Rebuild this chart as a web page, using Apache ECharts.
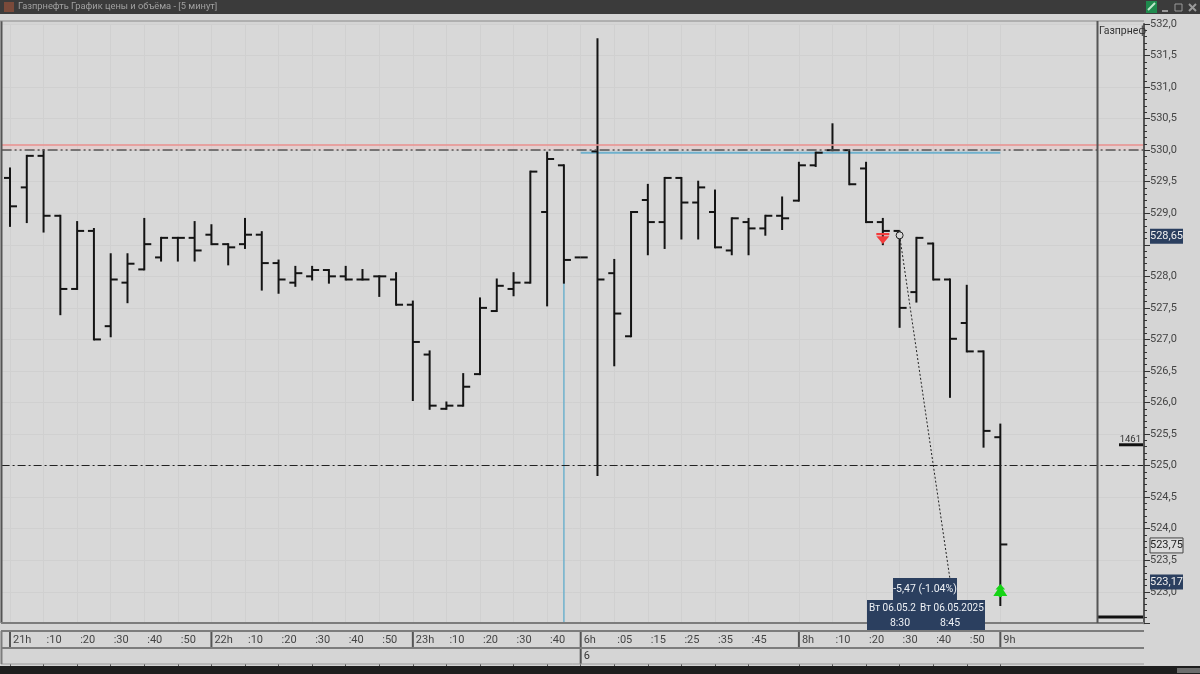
<!DOCTYPE html>
<html>
<head>
<meta charset="utf-8">
<title>Газпрнефть</title>
<style>
  html, body { margin: 0; padding: 0; background: #d5d5d5; }
  #chart { width: 1200px; height: 674px; }
</style>
<script src="https://cdn.jsdelivr.net/npm/echarts@6/dist/echarts.min.js"></script>
</head>
<body>
<div id="chart"></div>
<script>
const categories = [
  '21h', '', ':10', '', ':20', '', ':30', '', ':40', '', ':50', '',
  '22h', '', ':10', '', ':20', '', ':30', '', ':40', '', ':50', '',
  '23h', '', ':10', '', ':20', '', ':30', '', ':40', '',
  '6h', '', ':05', '', ':15', '', ':25', '', ':35', '', ':45', '', '',
  '8h', '', ':10', '', ':20', '', ':30', '', ':40', '', ':50', '',
  '9h', '', '', '', '', '', '', '', ''
]
const opens = [
  529.56, 529.41, 529.91, 528.96, 527.80, 528.72, 527.21, 527.90, 528.11, 528.30,
  528.61, 528.61, 528.66, 528.51, 528.51, 528.66, 528.21, 527.90, 528.00, 528.10,
  528.00, 527.95, 528.00, 527.95, 527.55, 526.76, 525.90, 525.95, 526.45, 527.45,
  527.80, 527.90, 529.02, 529.76, 528.30, 529.98, 528.05, 527.05, 529.21, 528.86,
  529.56, 529.17, 529.02, 528.41, 528.86, 528.76, 528.96, 529.20, 529.76, 530.00,
  530.00, 529.71, 528.86, 528.72, 527.75, 528.52, 527.95, 527.26, 526.81, 525.45
]
const highs = [
  529.71, 529.91, 530.00, 528.96, 528.86, 528.75, 528.35, 528.35, 528.91, 528.61,
  528.61, 528.86, 528.81, 528.51, 528.91, 528.70, 528.25, 528.15, 528.15, 528.10,
  528.15, 528.10, 528.00, 528.05, 527.60, 526.81, 526.00, 526.45, 527.65, 527.95,
  528.05, 529.66, 529.96, 529.76, 528.30, 531.76, 528.26, 529.02, 529.45, 529.56,
  529.56, 529.50, 529.36, 528.92, 528.91, 528.96, 529.25, 529.80, 529.96, 530.41,
  530.00, 529.80, 528.91, 528.71, 528.61, 528.52, 527.95, 527.85, 526.81, 525.65
]
const lows = [
  528.80, 528.86, 528.71, 527.40, 527.80, 527.00, 527.05, 527.59, 528.11, 528.25,
  528.25, 528.25, 528.51, 528.19, 528.45, 527.79, 527.74, 527.85, 527.95, 527.90,
  527.95, 527.95, 527.69, 527.55, 526.04, 525.90, 525.90, 525.95, 526.45, 527.45,
  527.70, 527.90, 527.54, 527.90, 528.30, 524.85, 526.59, 527.05, 528.35, 528.45,
  528.60, 528.60, 528.46, 528.35, 528.35, 528.66, 528.75, 529.20, 529.75, 530.00,
  529.46, 528.86, 528.51, 527.20, 527.60, 527.95, 526.09, 526.81, 525.30, 522.79
]
const closes = [
  529.11, 529.91, 528.96, 527.80, 528.72, 527.00, 527.95, 528.20, 528.51, 528.61,
  528.61, 528.41, 528.51, 528.46, 528.66, 528.21, 527.95, 528.05, 528.10, 528.00,
  527.95, 527.95, 528.00, 527.55, 526.96, 525.95, 525.95, 526.25, 527.50, 527.85,
  527.90, 529.66, 529.86, 528.26, 528.30, 527.95, 527.41, 529.02, 528.86, 529.56,
  529.17, 529.41, 528.46, 528.92, 528.76, 528.96, 528.92, 529.76, 529.96, 530.00,
  529.46, 528.86, 528.72, 527.50, 528.61, 527.95, 527.01, 526.81, 525.55, 523.75
]
const hourMarks = [0, 12, 24, 47, 59]
const dayMarks = [[34, '6']]
const redLevel = 530.09
const dashLevels = [530, 525]
const blueHorizontal = [[34, 529.96], [59, 529.96]]
const blueVertical = [[33, 527.9], [33, 522.5]]
const trendLine = [[53, 528.65], [56, 523.2]]
const sellSignals = [[52, 528.6]]
const buySignals = [[59, 523.02]]
const volumePrices = [525.33, 522.6]
const volumeValues = [1461, 2800]
const volumeTexts = ['1461', '']
const tagPrices = [528.65, 523.75, 523.17]
const tagTexts = ['528,65', '523,75', '523,17']
const tagFilled = [true, false, true]
const hiddenPriceLabels = [528.5]

const FONT = 'Roboto, "Open Sans", sans-serif'
const NAVY = '#2b3f5f'
const AXIS = '#555'

const chart = echarts.init(document.getElementById('chart'), null, { renderer: 'canvas' })

const isLabelled = (i, v) => v !== ''
const bars = opens.map((o, i) => [i, o, highs[i], lows[i], closes[i]])

function renderBar(params, api) {
  const i = api.value(0)
  const high = api.coord([i, api.value(2)])
  const low = api.coord([i, api.value(3)])
  const open = api.coord([i, api.value(1)])
  const close = api.coord([i, api.value(4)])
  const style = { stroke: '#141414', lineWidth: 2, fill: null }
  const children = [
    { type: 'line', shape: { x1: open[0] - 6, y1: open[1], x2: open[0], y2: open[1] }, style: style },
    { type: 'line', shape: { x1: close[0], y1: close[1], x2: close[0] + 7, y2: close[1] }, style: style }
  ]
  if (high[1] !== low[1]) {
    children.push({ type: 'line', shape: { x1: high[0], y1: high[1] - 1, x2: low[0], y2: low[1] + 1 }, style: style })
  }
  return { type: 'group', children: children }
}

function renderHourMark(params, api) {
  const p = api.coord([api.value(0), 0])
  return {
    type: 'line',
    shape: { x1: p[0], y1: params.coordSys.y, x2: p[0], y2: params.coordSys.y + api.value(1) },
    style: { stroke: AXIS, lineWidth: 2 }
  }
}

function renderDayMark(params, api) {
  const p = api.coord([api.value(0), 0])
  const top = params.coordSys.y
  return {
    type: 'group',
    children: [
      { type: 'line', shape: { x1: p[0], y1: top, x2: p[0], y2: top + params.coordSys.height }, style: { stroke: AXIS, lineWidth: 2 } },
      { type: 'text', x: p[0] + 3, y: top + 25, style: { text: dayMarks[params.dataIndex][1], fill: '#333', font: '11px ' + FONT, verticalAlign: 'middle' } }
    ]
  }
}

function renderVolume(params, api) {
  const p = api.coord([0, api.value(0)])
  const right = params.coordSys.x + params.coordSys.width
  const len = api.value(1) * 46 / 2800
  const children = [
    { type: 'line', shape: { x1: right - len, y1: p[1], x2: right, y2: p[1] }, style: { stroke: '#111', lineWidth: 3 } }
  ]
  if (volumeTexts[params.dataIndex]) {
    children.push({ type: 'text', x: right - 2, y: p[1] - 5.5, style: { text: volumeTexts[params.dataIndex], fill: '#333', font: '9.5px ' + FONT, align: 'right', verticalAlign: 'middle' } })
  }
  return { type: 'group', children: children }
}

function renderTag(params, api) {
  const p = api.coord([0, api.value(0)])
  const filled = tagFilled[params.dataIndex]
  return {
    type: 'group',
    children: [
      { type: 'rect', shape: { x: 1150, y: p[1] - 6.5, width: 33, height: 15 }, style: { fill: filled ? NAVY : '#dcdcdc', stroke: filled ? null : '#444', lineWidth: 1 } },
      { type: 'text', x: 1166.5, y: p[1] + 1, style: { text: tagTexts[params.dataIndex], fill: filled ? '#f0f0f0' : '#222', font: '11px ' + FONT, align: 'center', verticalAlign: 'middle' } }
    ]
  }
}

const line = (x1, y1, x2, y2, stroke, lineWidth, z) => ({
  type: 'line', z: z, silent: true, shape: { x1, y1, x2, y2 }, style: { stroke, lineWidth }
})
const rect = (x, y, width, height, fill, z) => ({
  type: 'rect', z: z, silent: true, shape: { x, y, width, height }, style: { fill }
})
const label = (x, y, text, fill, size, align, z) => ({
  type: 'text', z: z, silent: true, x, y, style: { text, fill, font: size + 'px ' + FONT, align: align || 'left', verticalAlign: 'middle' }
})

const chrome = [
  // window title bar
  rect(0, 0, 1200, 14, '#3b3b3b', 1),
  rect(4, 2, 10, 10, '#7a4a3a', 2),
  label(18, 7, 'Газпрнефть График цены и объёма - [5 минут]', '#a0a0a0', 9.3, 'left', 2),
  rect(1146, 1, 11, 12, '#1f8a4d', 2),
  line(1148, 10, 1155, 3, '#bfe8cc', 2, 3),
  line(1162, 11, 1168, 11, '#9a9a9a', 2, 2),
  { type: 'rect', z: 2, silent: true, shape: { x: 1175, y: 4, width: 7, height: 7 }, style: { fill: null, stroke: '#9a9a9a', lineWidth: 1 } },
  line(1189, 4, 1196, 11, '#9a9a9a', 2, 2),
  line(1196, 4, 1189, 11, '#9a9a9a', 2, 2),
  // bottom bar
  rect(0, 666, 1200, 8, '#1e1e1e', 1),
  rect(1177, 668, 23, 5, '#6e6e6e', 2),
  // plot frame
  line(1.5, 21, 1.5, 623, AXIS, 2, 50),
  line(0, 21, 1144, 21, '#8a8a8a', 1, 50),
  line(1, 623, 1144, 623, '#7c7c7c', 2, 50),
  line(1097.5, 21, 1097.5, 623, AXIS, 2, 50),
  // time strip rules
  line(1, 631, 1144, 631, '#7c7c7c', 2, 50),
  line(1, 648, 1144, 648, '#7c7c7c', 2, 50),
  line(1, 664, 1144, 664, '#9a9a9a', 1, 50),
  line(1.5, 631, 1.5, 664, '#7c7c7c', 2, 50),
  // pane title
  label(1099, 31, 'Газпрнеф', '#333', 10.5, 'left', 60),
  // measure tooltip
  rect(893, 578, 64, 22, NAVY, 100),
  rect(867, 600, 118, 30, NAVY, 100),
  label(925, 589, '-5,47 (-1.04%)', '#eef1f5', 10.5, 'center', 101),
  label(869, 608, 'Вт 06.05.2', '#eef1f5', 10, 'left', 101),
  label(920, 608, 'Вт 06.05.2025', '#eef1f5', 10, 'left', 101),
  label(900, 623, '8:30', '#eef1f5', 10.5, 'center', 101),
  label(950, 623, '8:45', '#eef1f5', 10.5, 'center', 101)
]

const option = {
  animation: false,
  backgroundColor: '#d5d5d5',
  textStyle: { fontFamily: FONT },
  graphic: { elements: chrome },
  grid: [
    { left: 1.6, top: 24, width: 1141.4, height: 599.3, show: true, backgroundColor: '#d8d8d8', borderWidth: 0 },
    { left: 1.6, top: 631, width: 1141.4, height: 33, show: false }
  ],
  xAxis: [
    {
      type: 'category', gridIndex: 0, data: categories,
      axisLine: { show: false }, axisTick: { show: false }, axisLabel: { show: false },
      splitLine: { show: true, interval: isLabelled, alignWithLabel: true, lineStyle: { color: '#d0d0d0', width: 1 } }
    },
    {
      type: 'category', gridIndex: 1, position: 'top', data: categories,
      axisLine: { show: false },
      axisTick: { show: true, inside: true, interval: isLabelled, alignWithLabel: true, length: 5, lineStyle: { color: AXIS, width: 1 } },
      axisLabel: {
        show: true, inside: true, interval: 0, align: 'left', verticalAlign: 'middle', margin: 9,
        padding: [0, 0, 0, 3], color: '#444', fontSize: 11, fontFamily: FONT
      },
      splitLine: { show: false }
    }
  ],
  yAxis: [
    {
      type: 'value', gridIndex: 0, position: 'right', offset: 1, min: 522.5, max: 532, interval: 0.5,
      axisLine: { show: true, lineStyle: { color: AXIS, width: 2 } },
      axisTick: { show: true, length: 6, lineStyle: { color: '#333', width: 1 } },
      minorTick: { show: true, splitNumber: 5, length: 3, lineStyle: { color: '#333', width: 1 } },
      axisLabel: {
        showMinLabel: false, margin: 6, padding: [2, 0, 0, 0], color: '#444', fontSize: 11, fontFamily: FONT,
        formatter: v => hiddenPriceLabels.includes(v) ? '' : v.toFixed(1).replace('.', ',')
      },
      splitLine: { show: true, lineStyle: { color: '#d0d0d0', width: 1 } }
    },
    { type: 'value', gridIndex: 1, min: 0, max: 1, show: false }
  ],
  series: [
    {
      name: 'levels', type: 'line', xAxisIndex: 0, yAxisIndex: 0, data: [],
      markArea: {
        silent: true,
        itemStyle: { color: 'rgba(245,195,195,0.35)' },
        data: [[{ yAxis: redLevel }, { yAxis: dashLevels[0] }]]
      },
      markLine: {
        silent: true, symbol: 'none', label: { show: false },
        data: [
          { yAxis: redLevel, lineStyle: { color: '#e8918f', width: 1.5, type: 'solid' } },
          { yAxis: dashLevels[0], lineStyle: { color: '#555', width: 1.5, type: [10, 3, 2, 3, 2, 3] } },
          { yAxis: dashLevels[1], lineStyle: { color: '#222', width: 1, type: [8, 3, 2, 3] } }
        ]
      }
    },
    {
      name: 'bluePrice', type: 'line', xAxisIndex: 0, yAxisIndex: 0, data: blueHorizontal, showSymbol: false,
      lineStyle: { color: '#6fb1cd', width: 2 }, z: 2
    },
    {
      name: 'blueTime', type: 'line', xAxisIndex: 0, yAxisIndex: 0, data: blueVertical, showSymbol: false,
      lineStyle: { color: '#6fb1cd', width: 1.5 }, z: 2
    },
    {
      name: 'prices', type: 'custom', xAxisIndex: 0, yAxisIndex: 0, data: bars, renderItem: renderBar,
      encode: { x: 0, y: [1, 2, 3, 4] }, z: 3
    },
    {
      name: 'measure', type: 'line', xAxisIndex: 0, yAxisIndex: 0, z: 4,
      data: [
        { value: trendLine[0], symbol: 'circle', symbolSize: 7 },
        { value: trendLine[1], symbol: 'none' }
      ],
      showAllSymbol: true,
      itemStyle: { color: '#d8d8d8', borderColor: '#222', borderWidth: 1 },
      lineStyle: { color: '#222', width: 1, type: [2, 2] }
    },
    {
      name: 'sell', type: 'scatter', xAxisIndex: 0, yAxisIndex: 0, data: sellSignals, z: 5,
      symbol: 'path://M0 0H12V2H0ZM0 3H12L6 10Z', symbolSize: [13, 11], itemStyle: { color: '#f23c3c', opacity: 1 }
    },
    {
      name: 'buy', type: 'scatter', xAxisIndex: 0, yAxisIndex: 0, data: buySignals, z: 5,
      symbol: 'path://M6.5 0L11 5H9L13 11H8V12H5V11H0L4 5H2Z', symbolSize: [14, 13], itemStyle: { color: '#16d416', opacity: 1 }
    },
    {
      name: 'volume', type: 'custom', xAxisIndex: 0, yAxisIndex: 0, z: 4, renderItem: renderVolume,
      data: volumePrices.map((p, i) => [p, volumeValues[i]]), encode: { y: 0 }
    },
    {
      name: 'tags', type: 'custom', xAxisIndex: 0, yAxisIndex: 0, z: 10, renderItem: renderTag,
      data: tagPrices.map(p => [p]), encode: { y: 0 }
    },
    {
      name: 'hours', type: 'custom', xAxisIndex: 1, yAxisIndex: 1, renderItem: renderHourMark,
      data: hourMarks.map(i => [i, 17]), encode: { x: 0 }
    },
    {
      name: 'days', type: 'custom', xAxisIndex: 1, yAxisIndex: 1, renderItem: renderDayMark,
      data: dayMarks.map(d => [d[0]]), encode: { x: 0 }
    }
  ]
}

chart.setOption(option)
</script>
</body>
</html>
